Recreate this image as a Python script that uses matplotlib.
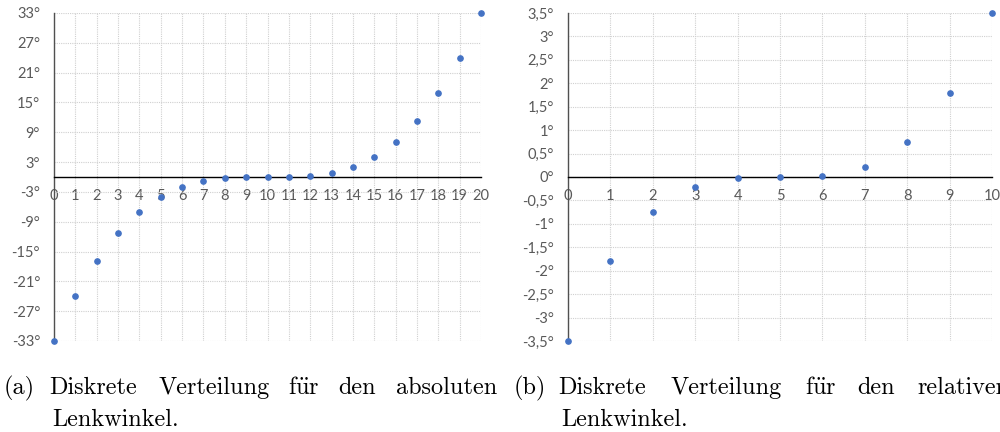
import numpy as np
import matplotlib
matplotlib.use('Agg')
import matplotlib.pyplot as plt

plt.rcParams['mathtext.fontset'] = 'cm'

# ---- daten ----
schritte_abs = list(range(21))
winkel_abs = [-33, -24, -17, -11.3, -7.1, -4.1, -2.1, -0.9, -0.3, -0.05, 0,
              0.05, 0.3, 0.9, 2.1, 4.1, 7.1, 11.3, 16.9, 24, 33]
yticks_abs = [-33, -27, -21, -15, -9, -3, 3, 9, 15, 21, 27, 33]
ylabels_abs = ['-33°', '-27°', '-21°', '-15°', '-9°', '-3°', '3°', '9°', '15°', '21°', '27°', '33°']

schritte_rel = list(range(11))
winkel_rel = [-3.5, -1.79, -0.75, -0.22, -0.03, 0, 0.03, 0.22, 0.75, 1.79, 3.5]
yticks_rel = [-3.5, -3, -2.5, -2, -1.5, -1, -0.5, 0, 0.5, 1, 1.5, 2, 2.5, 3, 3.5]
ylabels_rel = ['-3,5°', '-3°', '-2,5°', '-2°', '-1,5°', '-1°', '-0,5°', '0°',
               '0,5°', '1°', '1,5°', '2°', '2,5°', '3°', '3,5°']

W, H = 1000, 432
fig = plt.figure(figsize=(W / 100, H / 100), dpi=100)

ax1 = fig.add_axes([54 / W, (H - 341) / H, 427 / W, 328 / H])
ax2 = fig.add_axes([568 / W, (H - 341) / H, 424 / W, 328 / H])

def excel_achse(ax, x, y, yt, yl, ylim):
    ax.set_xlim(0, x[-1])
    ax.set_ylim(-ylim, ylim)
    ax.set_xticks(x)
    ax.set_yticks(yt, yl)
    ax.grid(True, color='#d0d0d0', linestyle=(0, (1, 1)), linewidth=0.8)
    ax.set_axisbelow(True)
    for s in ['top', 'right']:
        ax.spines[s].set_visible(False)
    ax.spines['bottom'].set_position(('data', 0))
    ax.spines['bottom'].set_color('black')
    ax.spines['bottom'].set_linewidth(1.0)
    ax.spines['left'].set_color('#505050')
    ax.spines['left'].set_linewidth(1.0)
    ax.tick_params(axis='both', length=0, labelsize=10.5, labelcolor='#595959')
    ax.tick_params(axis='y', pad=10)
    ax.tick_params(axis='x', pad=9)
    for lab in ax.get_xticklabels() + ax.get_yticklabels():
        lab.set_family('Lato')
    ax.plot(x, y, 'o', color='#4472C4', markersize=3.8, clip_on=False, zorder=5)

excel_achse(ax1, schritte_abs, winkel_abs, yticks_abs, ylabels_abs, 33)
excel_achse(ax2, schritte_rel, winkel_rel, yticks_rel, ylabels_rel, 3.5)

# ---- bildunterschriften (blocksatz, woerter einzeln gesetzt) ----
def wort(text, x0, x1, y_base):
    text = text.replace('ü', r'$\ddot{\mathrm{u}}$')
    fig.text((x0 + x1) / 2 / W, 1 - y_base / H, text, fontsize=17.5,
             family='cmr10', ha='center', va='baseline')

zeile1, zeile2 = 394, 426
wort('(a)', 4, 35, zeile1)
wort('Diskrete', 47, 140, zeile1)
wort('Verteilung', 152, 277, zeile1)
wort('für', 287, 320, zeile1)
wort('den', 337, 378, zeile1)
wort('absoluten', 393, 500, zeile1)
wort('Lenkwinkel.', 47, 185, zeile2)

wort('(b)', 515, 545, zeile1)
wort('Diskrete', 557, 648, zeile1)
wort('Verteilung', 665, 788, zeile1)
wort('für', 805, 837, zeile1)
wort('den', 856, 896, zeile1)
wort('relativen', 913, 1013, zeile1)
wort('Lenkwinkel.', 557, 693, zeile2)

fig.savefig('out.png', dpi=100)
